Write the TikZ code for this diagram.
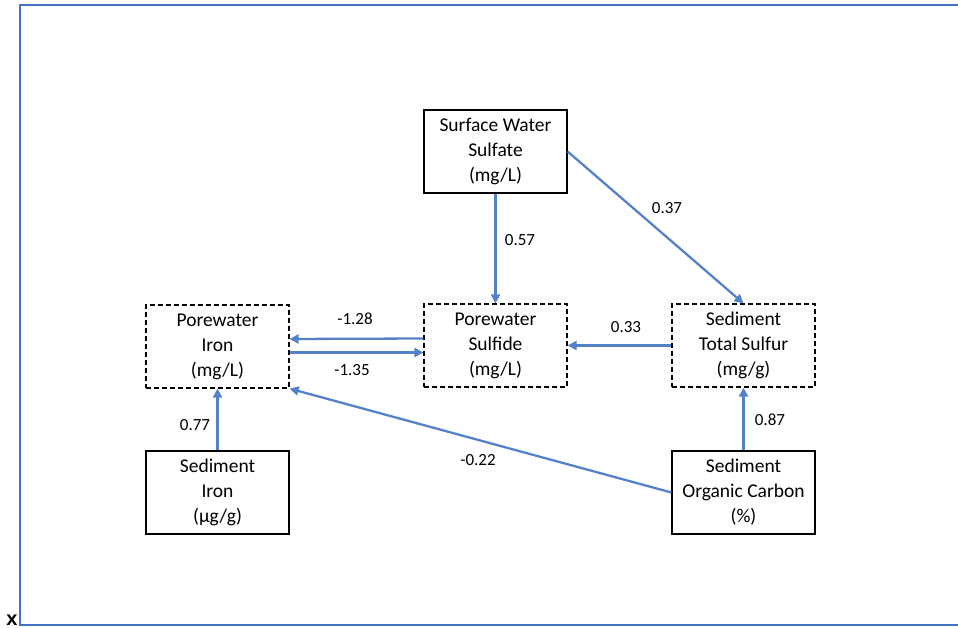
\documentclass[tikz,border=0pt]{standalone}
\usepackage{fontspec}
\setmainfont{Carlito}
\newfontfamily\xfont{Liberation Sans}
\usetikzlibrary{arrows.meta}
\definecolor{frameblue}{RGB}{68,114,196}
\definecolor{arrblue}{RGB}{84,130,200}
\tikzset{
  box/.style={draw=black, line width=1.2pt, minimum width=143pt, minimum height=83pt, align=center, font=\fontsize{19.5}{25}\selectfont, inner sep=0pt},
  dbox/.style={box, dashed, dash pattern=on 5pt off 3pt},
  conn/.style={draw=arrblue, line width=2.3pt, -{Triangle[length=9pt,width=9pt]}},
  lbl/.style={font=\fontsize{17}{20}\selectfont, inner sep=0pt}
}
\begin{document}
\begin{tikzpicture}[x=1pt,y=-1pt]
\useasboundingbox (0,0) rectangle (958,628);
\draw[frameblue, line width=2.8pt] (962,5) -- (20,5) -- (20,625) -- (962,625);
\node[font=\fontsize{20}{22}\selectfont\xfont\bfseries, inner sep=0pt, anchor=base] (x) at (12,625) {x};

\node[box] (sws) at (495.5,151.5) {Surface Water\\Sulfate\\(mg/L)};
\node[dbox] (pi) at (217.5,346.5) {Porewater\\Iron\\(mg/L)};
\node[dbox] (ps) at (495.5,345.5) {Porewater\\Sulfide\\(mg/L)};
\node[dbox] (sts) at (743.5,345.5) {Sediment\\Total Sulfur\\(mg/g)};
\node[box] (si) at (217.5,492.5) {Sediment\\Iron\\(µg/g)};
\node[box] (soc) at (743.5,492.5) {Sediment\\Organic Carbon\\(\%)};

\draw[conn] (sws.south) -- (ps.north);
\draw[conn] (sws.east) -- (sts.north);
\draw[conn] (sts.west) -- (ps.east);
\draw[conn] ([yshift=7pt]ps.west) -- ([yshift=7.5pt]pi.east);
\draw[conn] ([yshift=-6pt]pi.east) -- ([yshift=-7pt]ps.west);
\draw[conn] (si.north) -- (pi.south);
\draw[conn] (soc.north) -- (sts.south);
\draw[conn] (soc.west) -- (pi.south east);

\node[lbl] (l057) at (520,240) {0.57};
\node[lbl] (l037) at (667,208) {0.37};
\node[lbl] (l033) at (626,327) {0.33};
\node[lbl] (l128) at (355,319) {-1.28};
\node[lbl] (l135) at (352,370) {-1.35};
\node[lbl] (l077) at (195,425) {0.77};
\node[lbl] (l087) at (770,420) {0.87};
\node[lbl] (l022) at (478,460) {-0.22};
\end{tikzpicture}
\end{document}
